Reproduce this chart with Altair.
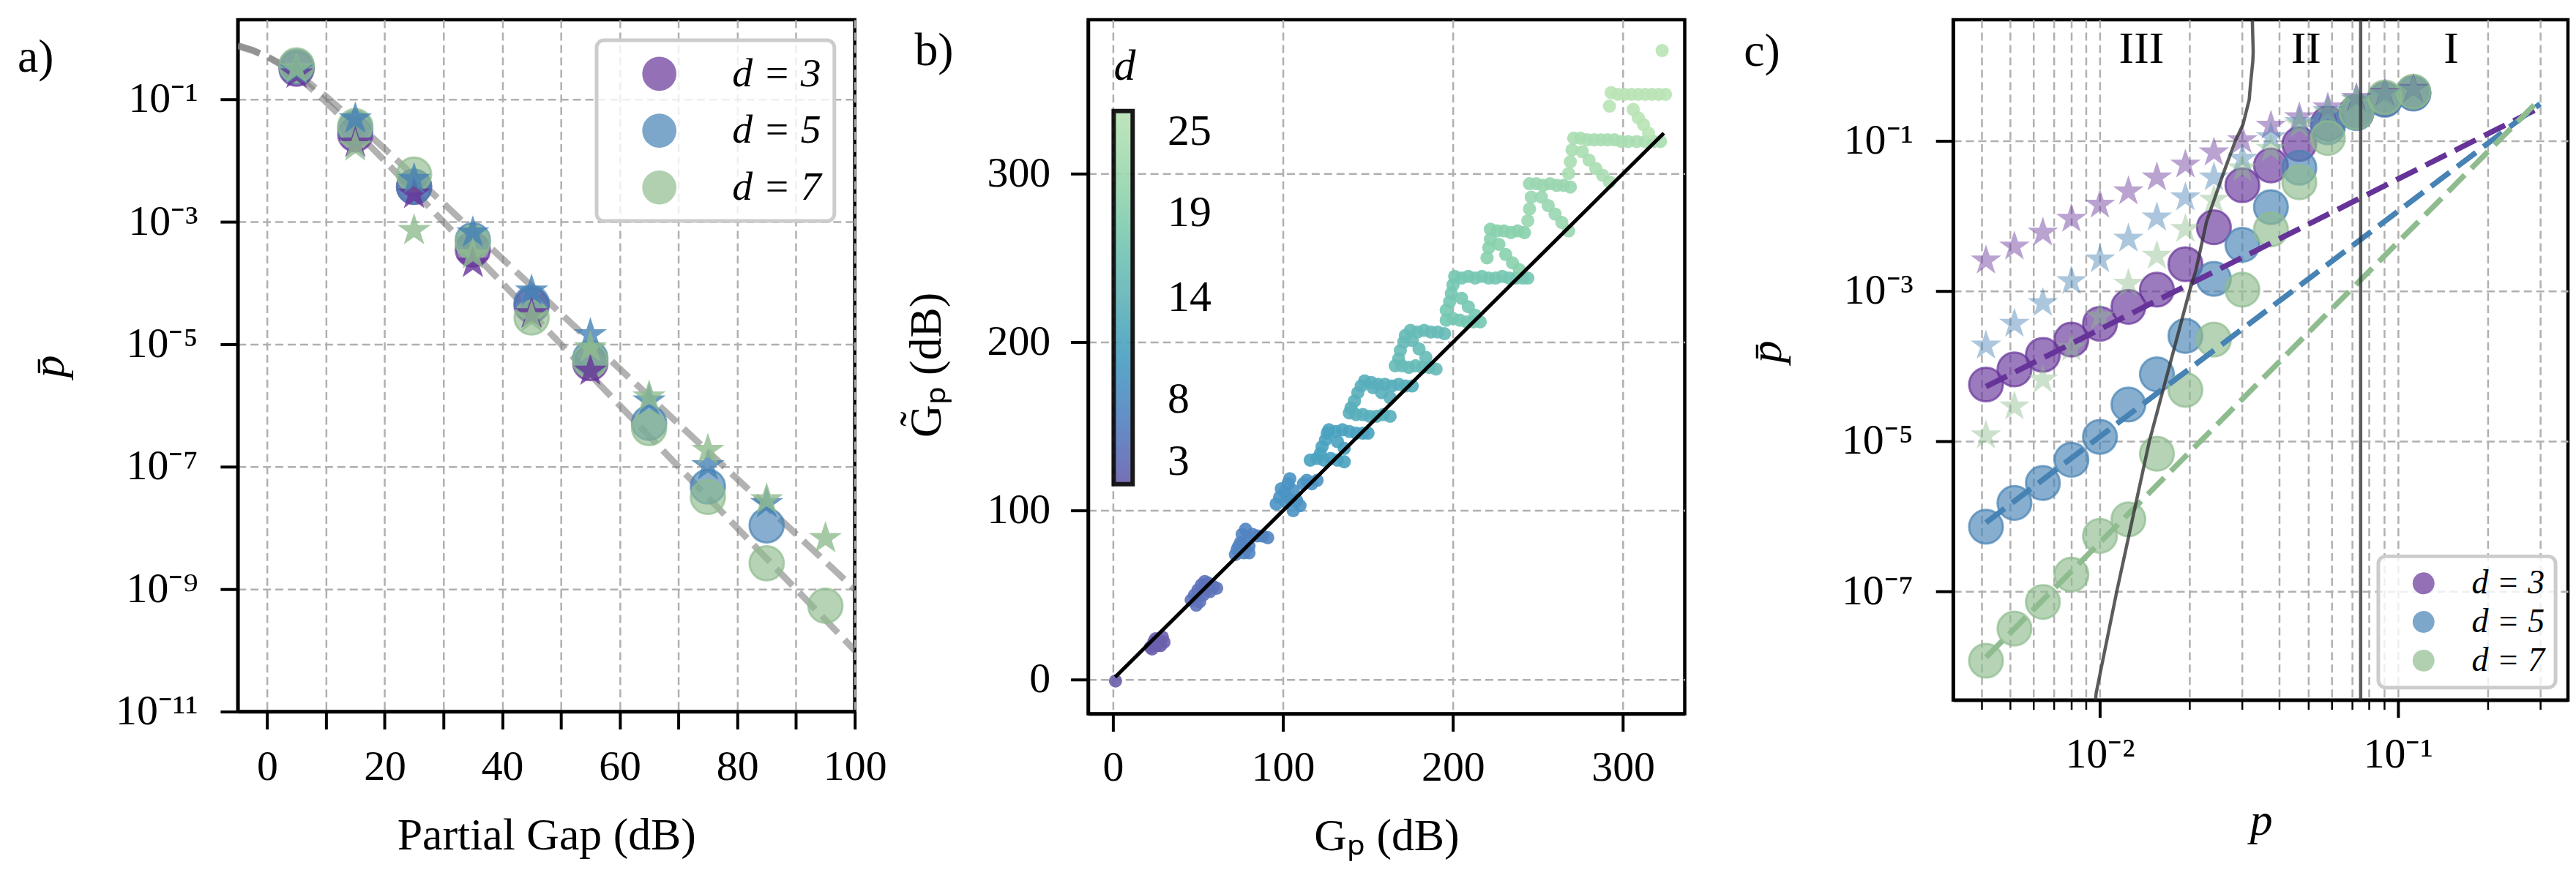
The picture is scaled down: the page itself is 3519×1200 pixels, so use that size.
import altair as alt
import pandas as pd

FONT = "Liberation Serif"
PURPLE = "#663399"
BLUE = "#4682b4"
GREEN = "#8fbc8f"
# five-pointed star marker outline (unit box), like matplotlib's '*'
STAR = ("M0,-1L0.2245,-0.309L0.9511,-0.309L0.3633,0.118L0.5878,0.809L0,0.382"
        "L-0.5878,0.809L-0.3633,0.118L-0.9511,-0.309L-0.2245,-0.309Z")

# ---------------- panel a ----------------
gap_db = [5, 15, 25, 35, 45, 55, 65, 75, 85, 95]
a_circ_d3 = [3.16e-1, 2.67e-2, 3.72e-3, 3.51e-4, 4.31e-5, 4.9e-6]
a_star_d3 = [2.61e-1, 1.94e-2, 2.85e-3, 2.12e-4, 3.16e-5, 3.66e-6]
a_circ_d5 = [3.43e-1, 3.35e-2, 3.75e-3, 5.01e-4, 4.71e-5, 5.96e-6, 5.19e-7, 4.74e-8, 1.10e-8]
a_star_d5 = [3.02e-1, 4.82e-2, 4.93e-3, 6.64e-4, 7.43e-5, 1.44e-5, 1.19e-6, 1.04e-7, 2.51e-8]
a_circ_d7 = [3.58e-1, 3.66e-2, 5.92e-3, 4.60e-4, 2.73e-5, 5.41e-6, 4.27e-7, 3.21e-8, 2.65e-9, 5.35e-10]
a_star_d7 = [3.16e-1, 1.69e-2, 7.26e-4, 2.92e-4, 2.73e-5, 8.81e-6, 1.38e-6, 1.86e-7, 2.90e-8, 6.76e-9]

theory_gap = [-5, -2.5, 0, 2.5, 5, 7.5, 10, 15, 20, 30, 40, 50, 60, 70, 80, 90, 100]
theory_lower = [0.76, 0.64, 0.5, 0.36, 0.24, 0.151, 9.09e-2, 3.07e-2, 9.9e-3, 1.0e-3, 1.0e-4,
                1.0e-5, 1.0e-6, 1.0e-7, 1.0e-8, 1.0e-9, 1.0e-10]
theory_upper = [0.738, 0.627, 0.5, 0.373, 0.262, 0.1745, 0.112, 4.27e-2, 1.56e-2, 2.0e-3, 2.51e-4,
                3.16e-5, 3.98e-6, 5.01e-7, 6.31e-8, 7.94e-9, 1.0e-9]

a_xticks = [0, 10, 20, 30, 40, 50, 60, 70, 80, 90, 100]
a_yexps = [-1, -3, -5, -7, -9, -11]

# ---------------- panel b ----------------
gp_db = [1.5,
         22, 24, 25, 26, 27, 29, 30, 23, 28,
         46, 48, 50, 51, 52, 54, 56, 57, 59, 61, 49, 53, 55,
         72, 73, 75, 76, 78, 79, 80, 82, 85, 88, 91, 77, 80, 74,
         96, 98, 99, 101, 103, 104, 106, 108, 110, 112, 114, 117, 120, 106, 102, 104,
         116, 120, 124, 128, 132, 136, 122, 123, 125, 126,
         127, 131, 135, 139, 143, 147, 150, 132, 136,
         139, 143, 147, 151, 155, 159, 163, 140, 142, 144, 146,
         148, 152, 156, 160, 164, 168, 172, 176, 153, 158, 163,
         166, 170, 174, 178, 182, 186, 190, 168, 169, 171, 172,
         175, 179, 183, 187, 191, 195, 176, 180, 184,
         196, 200, 204, 208, 212, 216, 196, 198, 199, 200,
         201, 205, 209, 213, 217, 221, 225, 229, 233, 237, 241, 244, 205, 209, 213,
         220, 221, 222, 222, 226, 230, 234, 238, 242, 227, 231, 235, 239,
         244, 245, 246, 245, 249, 253, 257, 261, 265, 269, 252, 256, 260, 264, 268,
         268, 269, 270, 271, 275, 279, 283, 287, 291, 295, 299, 303, 308, 313, 318, 322, 276, 280, 284, 288, 292,
         292, 293, 297, 301, 305, 309, 313, 317, 321, 325, 306, 309, 312, 315,
         323]
gp_tilde = [-1.0,
            19, 22, 24, 20, 23, 25, 22, 18, 20,
            47, 50, 53, 46, 56, 58, 57, 52, 55, 54, 44, 50, 53,
            74, 77, 81, 86, 89, 84, 79, 86, 85, 85, 84, 75, 75, 79,
            104, 108, 113, 111, 116, 119, 112, 106, 103, 116, 118, 116, 118, 100, 105, 107,
            130, 131, 130, 131, 130, 129, 134, 138, 142, 146,
            148, 147, 148, 147, 146, 146, 146, 141, 137,
            158, 157, 157, 156, 156, 157, 156, 161, 165, 170, 174,
            177, 176, 175, 175, 174, 175, 174, 174, 173, 170, 167,
            186, 186, 185, 186, 185, 185, 184, 190, 195, 200, 204,
            207, 206, 207, 206, 206, 205, 201, 196, 191,
            213, 214, 213, 212, 212, 212, 219, 224, 229, 234,
            239, 238, 239, 238, 239, 238, 238, 239, 238, 238, 238, 238, 226, 221, 216,
            250, 256, 261, 267, 266, 266, 265, 266, 265, 258, 252, 247, 243,
            272, 279, 286, 294, 294, 293, 294, 293, 293, 292, 286, 281, 276, 271, 266,
            300, 307, 314, 321, 321, 320, 320, 320, 320, 320, 319, 319, 319, 319, 319, 319, 313, 308, 303, 299, 295,
            340, 348, 347, 347, 347, 347, 347, 347, 347, 347, 338, 333, 329, 324,
            373]
gp_d = [3] * 10 + [5] * 13 + [7] * 14 + [9] * 16 + [11] * 19 + [13] * 22 + [15] * 20 + \
       [17] * 25 + [19] * 13 + [21] * 15 + [23] * 21 + [25] * 15
identity_x = [1.3, 324]
b_ticks = [0, 100, 200, 300]
b_cbar_values = [3, 8, 14, 19, 25]
b_cbar_colors = ["#6a5fad", "#4f8cc3", "#62b4b8", "#88d0ad", "#b9e3b5"]

# ---------------- panel c ----------------
p_vals = [0.00415, 0.00517, 0.00644, 0.00803, 0.01001, 0.01247, 0.01554, 0.01937,
          0.02414, 0.03008, 0.0375, 0.0467, 0.0582, 0.0726, 0.0904, 0.1127]
c_circ_d3 = [5.68e-5, 9.02e-5, 1.41e-4, 2.25e-4, 3.66e-4, 6.15e-4, 1.04e-3, 2.27e-3,
             7.05e-3, 2.56e-2, 4.71e-2, 9.08e-2, 0.17, 0.24, 0.36, 0.435]
c_circ_d5 = [7.26e-7, 1.50e-6, 2.77e-6, 5.64e-6, 1.14e-5, 3.08e-5, 7.76e-5, 2.52e-4,
             1.45e-3, 4.12e-3, 1.31e-2, 4.38e-2, 0.151, 0.234, 0.351, 0.427]
c_circ_d7 = [1.19e-8, 3.18e-8, 7.21e-8, 1.67e-7, 5.47e-7, 9.08e-7, 6.79e-6, 4.82e-5,
             2.25e-4, 1.04e-3, 6.59e-3, 2.80e-2, 0.109, 0.239, 0.380, 0.450]
c_star_d3 = [2.54e-3, 3.91e-3, 5.98e-3, 9.14e-3, 1.41e-2, 2.12e-2, 3.25e-2, 4.82e-2,
             7.0e-2, 0.1016, 0.159, 0.206, 0.278, 0.374, 0.437, 0.49]
c_star_d5 = [1.87e-4, 3.66e-4, 6.89e-4, 1.35e-3, 2.64e-3, 4.97e-3, 9.51e-3, 1.76e-2,
             3.25e-2, 5.81e-2, 0.112, 0.178, 0.251, 0.355, 0.417, 0.479]
c_star_d7 = [1.19e-5, 2.90e-5, 6.59e-5, 1.74e-4, 4.57e-4, 1.25e-3, 2.94e-3, 6.68e-3,
             1.64e-2, 4.31e-2, 7.82e-2, 0.165, 0.24, 0.349, 0.417, 0.468]
fit_p = [0.00415, 0.3]
fit_d3 = [5.32e-5, 0.278]
fit_d5 = [8.22e-7, 0.310]
fit_d7 = [1.32e-8, 0.360]
thr_p = [0.00955, 0.00972, 0.0114, 0.01466, 0.0200, 0.0210, 0.0228, 0.0260, 0.0285,
         0.0302, 0.0317, 0.0320, 0.0326, 0.0327, 0.0325, 0.0324]
thr_pbar = [2.0e-9, 4.4e-9, 1.0e-7, 1.0e-5, 1.0e-3, 1.88e-3, 8.36e-3, 3.74e-2, 0.1,
            0.164, 0.35, 0.547, 1.14, 1.54, 3.76, 6.0]
p_threshold = [0.075]
region_p = [0.0138, 0.0492, 0.151]
region_pbar = [1.66, 1.66, 1.66]
region_text = ["III", "II", "I"]
c_xticks = [0.004, 0.005, 0.006, 0.007, 0.008, 0.009, 0.01, 0.02, 0.03, 0.04, 0.05,
            0.06, 0.07, 0.08, 0.09, 0.1, 0.2, 0.3]
c_yexps = [-1, -3, -5, -7]

D_LABELS = ["3", "5", "7"]
D_COLORS = [PURPLE, BLUE, GREEN]


def pow_expr(exps):
    sup = str.maketrans("-0123456789", "\u207b\u2070\u00b9\u00b2\u00b3\u2074\u2075\u2076\u2077\u2078\u2079")
    expr = "''"
    for e in exps:
        lab = "10" + str(e).translate(sup)
        expr = f"(abs(log(datum.value)/LN10 - ({e})) < 0.01 ? '{lab}' : {expr})"
    return expr


def long_df(xs, series):
    rows = []
    for d, ys in series:
        for k, y in enumerate(ys):
            rows.append({"x": xs[k], "y": y, "d": d})
    return pd.DataFrame(rows)


def panel_label(txt, dx, dy):
    return alt.Chart(pd.DataFrame({"t": [txt]})).mark_text(
        align="left", baseline="middle", font=FONT, fontSize=64, x=dx, y=dy
    ).encode(text="t:N")


# ===== panel a =====
xa = alt.X("x:Q", scale=alt.Scale(domain=[-5, 100], nice=False, zero=False),
           axis=alt.Axis(values=a_xticks, labelExpr="datum.value % 20 === 0 ? datum.label : ''",
                         title="Partial Gap (dB)", titleX=423, titleY=170, titleBaseline="middle",
                         labelPadding=23))
ya = alt.Y("y:Q", scale=alt.Scale(type="log", domain=[1e-11, 1.99], nice=False),
           axis=alt.Axis(values=[10.0 ** e for e in a_yexps], labelExpr=pow_expr(a_yexps),
                         title="p\u0304", titleFontStyle="italic", titleX=-258, titleY=475,
                         titleBaseline="middle", titleAngle=270, labelPadding=31))
a_scale = alt.Scale(domain=D_LABELS, range=D_COLORS)

a_lower = alt.Chart(pd.DataFrame({"x": theory_gap, "y": theory_lower})).mark_line(
    color="#7f7f7f", opacity=0.6, strokeWidth=9, strokeDash=[32, 13], clip=True).encode(x=xa, y=ya)
a_upper = alt.Chart(pd.DataFrame({"x": theory_gap, "y": theory_upper})).mark_line(
    color="#7f7f7f", opacity=0.6, strokeWidth=9, strokeDash=[32, 13], clip=True).encode(x=xa, y=ya)

a_circ = alt.Chart(long_df(gap_db, [("3", a_circ_d3), ("5", a_circ_d5), ("7", a_circ_d7)])).mark_point(
    filled=True, shape="circle", size=2200, fillOpacity=0.65, strokeOpacity=0.7, strokeWidth=3, clip=True
).encode(
    x=xa, y=ya,
    fill=alt.Fill("d:N", scale=a_scale, legend=alt.Legend(
        orient="top-right", offset=28, title=None, padding=18, symbolOffset=40, labelOffset=72,
        rowPadding=22, symbolSize=2200, symbolType="circle", symbolOpacity=0.7, symbolStrokeWidth=0,
        labelFontSize=56, labelFont=FONT, labelFontStyle="italic", labelExpr="'d = ' + datum.label",
        strokeColor="#cccccc", fillColor="rgba(255,255,255,0.8)", cornerRadius=10)),
    stroke=alt.Stroke("d:N", scale=a_scale, legend=None),
)
a_star = alt.Chart(long_df(gap_db, [("3", a_star_d3), ("5", a_star_d5), ("7", a_star_d7)])).mark_point(
    filled=True, shape=STAR, size=2300, opacity=0.8, clip=True
).encode(x=xa, y=ya, color=alt.Color("d:N", scale=a_scale, legend=None))

panel_a = alt.layer(a_lower, a_upper, a_circ, a_star, panel_label("a)", -302, 52)).properties(
    width=846, height=949)

# ===== panel b =====
xb = alt.X("x:Q", scale=alt.Scale(domain=[-14.6, 336.3], nice=False, zero=False),
           axis=alt.Axis(values=b_ticks, title="G\u209a (dB)", titleX=409, titleY=168,
                         titleBaseline="middle", labelPadding=21))
yb = alt.Y("y:Q", scale=alt.Scale(domain=[-20.5, 391.2], nice=False, zero=False),
           axis=alt.Axis(values=b_ticks, title="G\u0303\u209a (dB)", titleX=-222, titleY=473,
                         titleBaseline="middle", titleAngle=270, labelPadding=28))
b_pts = alt.Chart(pd.DataFrame({"x": gp_db, "y": gp_tilde, "dd": gp_d})).mark_circle(
    size=330, opacity=0.9, clip=True
).encode(
    x=xb, y=yb,
    color=alt.Color("dd:Q", scale=alt.Scale(domain=b_cbar_values, range=b_cbar_colors), legend=alt.Legend(
        orient="top-left", offset=35, direction="vertical", title="d", titleFontStyle="italic",
        titleFontSize=60, titleFont=FONT, titleFontWeight="normal", titlePadding=30,
        gradientLength=512, gradientThickness=26, gradientStrokeColor="black", gradientStrokeWidth=6,
        labelFontSize=60, labelFont=FONT, labelOffset=48, values=b_cbar_values, padding=0,
        labelOverlap=False)),
)
b_line = alt.Chart(pd.DataFrame({"x": identity_x, "y": identity_x})).mark_line(
    color="black", strokeWidth=5).encode(x=xb, y=yb)
b_pad = alt.Chart(pd.DataFrame({"t": ["."]})).mark_text(opacity=0, x=818 + 56, y=20).encode(text="t:N")
panel_b = alt.layer(b_pts, b_line, panel_label("b)", -238, 43), b_pad).properties(width=818, height=952)

# ===== panel c =====
major_test = "datum.value == 0.01 || datum.value == 0.1"
xc = alt.X("x:Q", scale=alt.Scale(type="log", domain=[0.00322, 0.372], nice=False),
           axis=alt.Axis(values=c_xticks,
                         labelExpr="datum.value == 0.01 ? '10\u207b\u00b2' : (datum.value == 0.1 ? '10\u207b\u00b9' : '')",
                         tickSize={"condition": {"test": major_test, "value": 24}, "value": 13},
                         tickWidth={"condition": {"test": major_test, "value": 4}, "value": 2.5},
                         title="p", titleFontStyle="italic", titleX=422, titleY=166,
                         titleBaseline="middle", labelPadding=22))
yc = alt.Y("y:Q", scale=alt.Scale(type="log", domain=[3.57e-9, 4.09], nice=False),
           axis=alt.Axis(values=[10.0 ** e for e in c_yexps], labelExpr=pow_expr(c_yexps),
                         title="p\u0304", titleFontStyle="italic", titleX=-255, titleY=455,
                         titleBaseline="middle", titleAngle=270, labelPadding=31))
c_scale = alt.Scale(domain=D_LABELS, range=D_COLORS)

c_circ = alt.Chart(long_df(p_vals, [("3", c_circ_d3), ("5", c_circ_d5), ("7", c_circ_d7)])).mark_point(
    filled=True, shape="circle", size=2150, fillOpacity=0.65, strokeOpacity=0.7, strokeWidth=3, clip=True
).encode(
    x=xc, y=yc,
    fill=alt.Fill("d:N", scale=c_scale, legend=alt.Legend(
        orient="bottom-right", offset=17, title=None, padding=14, symbolOffset=25, labelOffset=43,
        rowPadding=7, symbolSize=900, symbolType="circle", symbolOpacity=0.7, symbolStrokeWidth=0,
        labelFontSize=46, labelFont=FONT, labelFontStyle="italic", labelExpr="'d = ' + datum.label",
        strokeColor="#cccccc", fillColor="rgba(255,255,255,0.8)", cornerRadius=10)),
    stroke=alt.Stroke("d:N", scale=c_scale, legend=None),
)
c_star = alt.Chart(long_df(p_vals, [("3", c_star_d3), ("5", c_star_d5), ("7", c_star_d7)])).mark_point(
    filled=True, shape=STAR, size=1950, opacity=0.45, clip=True
).encode(x=xc, y=yc, color=alt.Color("d:N", scale=c_scale, legend=None))

fit_rows = []
for d, ys in [("3", fit_d3), ("5", fit_d5), ("7", fit_d7)]:
    for k in range(2):
        fit_rows.append({"x": fit_p[k], "y": ys[k], "d": d})
c_fit = alt.Chart(pd.DataFrame(fit_rows)).mark_line(
    strokeWidth=7.5, strokeDash=[32, 13], clip=True
).encode(x=xc, y=yc, detail="d:N", color=alt.Color("d:N", scale=c_scale, legend=None))

c_thr = alt.Chart(pd.DataFrame({"x": thr_p, "y": thr_pbar, "o": list(range(len(thr_p)))})).mark_line(
    color="#333333", opacity=0.8, strokeWidth=4.5, clip=True
).encode(x=xc, y=yc, order="o:Q")
c_vline = alt.Chart(pd.DataFrame({"x": p_threshold})).mark_rule(
    color="#333333", opacity=0.8, strokeWidth=4.5).encode(x=xc)
c_text = alt.Chart(pd.DataFrame({"x": region_p, "y": region_pbar, "t": region_text})).mark_text(
    font=FONT, fontSize=62, baseline="middle", align="center"
).encode(x=xc, y=yc, text="t:N")

panel_c = alt.layer(c_circ, c_star, c_fit, c_thr, c_vline, c_text, panel_label("c)", -287, 44)).properties(
    width=843, height=933)

chart = alt.hconcat(panel_a, panel_b, panel_c, spacing=18).resolve_scale(
    fill="independent", stroke="independent", color="independent"
).properties(
    padding={"left": 13, "top": 12, "right": 0, "bottom": 0}
).configure_view(
    stroke="black", strokeWidth=4.5
).configure_axis(
    labelFont=FONT, titleFont=FONT, labelFontSize=58, titleFontSize=62, titleFontWeight="normal",
    labelColor="black", titleColor="black", domainColor="black", domainWidth=4.5,
    tickColor="black", tickWidth=4, tickSize=24, grid=True, gridColor="#b0b0b0",
    gridDash=[11, 6], gridWidth=2.5, labelFlush=False, labelOverlap=False, labelBound=False
).configure_legend(
    labelFont=FONT, titleFont=FONT, strokeWidth=5
)

chart.save("out.html", embed_options={"renderer": "svg", "actions": False})
